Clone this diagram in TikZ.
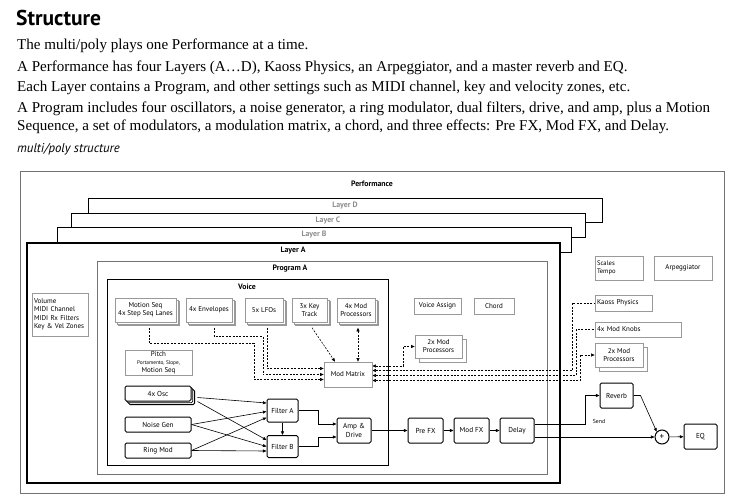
\documentclass[tikz,border=0pt]{standalone}
\usepackage{fontspec}
\setmainfont{Liberation Serif}
\newfontfamily\dgf{PT Sans}
\usetikzlibrary{arrows.meta,shadows,calc}
\pgfdeclarelayer{back}
\pgfdeclarelayer{mid}
\pgfsetlayers{back,mid,main}
\newlength\lw
\begin{document}%
\settowidth\lw{\fontsize{10pt}{12pt}\selectfont A Program includes four oscillators, a noise generator, a ring modulator, dual filters, drive, and amp, plus a Motion}%
\pgfmathsetmacro\bsz{6930/\lw}%
\begin{tikzpicture}[x=1pt,y=-1pt,
  lb/.style={draw=black!40, line width=0.6pt, fill=white, inner sep=0pt, align=center, font=\dgf\fontsize{7}{8}\selectfont},
  stk/.style={lb, double copy shadow={shadow xshift=1.8pt, shadow yshift=-1.8pt, draw=black!40, line width=0.6pt}},
  ab/.style={draw=black, line width=1pt, rounded corners=1.5pt, fill=white, inner sep=0pt, align=center, font=\dgf\fontsize{7.2}{8.5}\selectfont},
  tipa/.tip={Triangle[length=3.6pt,width=3pt]},
  sig/.style={line width=0.6pt, -tipa},
  modline/.style={line width=0.6pt, dash pattern=on 2pt off 1.4pt},
  mod/.style={modline, -tipa},
  modr/.style={modline, tipa-},
  modb/.style={modline, tipa-tipa},
  frm/.style={draw=black, line width=0.9pt, fill=white},
  lab/.style={font=\dgf\bfseries\fontsize{7.8}{9}\selectfont, inner sep=0pt},
  body/.style={anchor=base west, inner sep=0pt, font=\fontsize{\bsz pt}{14pt}\selectfont},
]
\useasboundingbox (0,0) rectangle (736,500);

% ---- header text
\node[anchor=base west, inner sep=0pt, font=\dgf\bfseries\fontsize{21.5}{24}\selectfont] (title) at (16,26) {Structure};
\node[body] (l1) at (17,50) {The multi/poly plays one Performance at a time.};
\node[body] (l2) at (17,71.5) {A Performance has four Layers (A…D), Kaoss Physics, an Arpeggiator, and a master reverb and EQ.};
\node[body] (l3) at (17,92) {Each Layer contains a Program, and other settings such as MIDI channel, key and velocity zones, etc.};
\node[body] (l4) at (17,113) {A Program includes four oscillators, a noise generator, a ring modulator, dual filters, drive, and amp, plus a Motion};
\node[body] (l5) at (17,130.5) {Sequence, a set of modulators, a modulation matrix, a chord, and three effects: Pre FX, Mod FX, and Delay.};
\node[anchor=base west, inner sep=0pt, font=\dgf\itshape\fontsize{12.8}{14}\selectfont] (cap) at (17,153) {multi/poly structure};

% ---- frames
\begin{pgfonlayer}{back}
\draw[draw=black!55, line width=0.8pt, fill=white] (20,171) rectangle (724,493);
\draw[frm] (88,198) rectangle (602,222);
\draw[frm] (71,213) rectangle (585,237);
\draw[frm] (57,227) rectangle (571,252);
\draw[frm, line width=1.2pt] (27,243) rectangle (560,483);
\draw[draw=black!55, line width=0.8pt] (97,261) rectangle (547,474);
\draw[draw=black, line width=0.8pt] (107,279) rectangle (388,465);
\end{pgfonlayer}

\node[lab] (perf) at (372,184) {Performance};
\node[lab, text=black!45] (layd) at (345,206) {Layer D};
\node[lab, text=black!45] (layc) at (328,221) {Layer C};
\node[lab, text=black!45] (layb) at (314,235) {Layer B};
\node[lab] (laya) at (293,251) {Layer A};
\node[lab] (proga) at (290,269) {Program A};
\node[lab] (voice) at (247,287) {Voice};

% ---- performance level
\node[lb, minimum width=48pt, minimum height=24pt, text width=44pt, align=left, font=\dgf\fontsize{6.6}{8}\selectfont] (scales) at (619,268) {Scales\\Tempo};
\node[lb, minimum width=58pt, minimum height=24pt] (arp) at (683,268) {Arpeggiator};

% ---- layer level
\node[lb, minimum width=56pt, minimum height=43pt, text width=52pt, align=left, font=\dgf\fontsize{7}{8.5}\selectfont] (vol) at (60,314.5) {Volume\\MIDI Channel\\MIDI Rx Filters\\Key \& Vel Zones};
\node[lb, minimum width=57pt, minimum height=16pt, text width=53pt, align=left] (kaoss) at (623.5,303) {Kaoss Physics};
\node[lb, minimum width=86pt, minimum height=15pt, text width=82pt, align=left] (knobs) at (638,329.5) {4x Mod Knobs};
\node[lb, minimum width=48pt, minimum height=24pt, copy shadow={shadow xshift=4pt, shadow yshift=-4pt, draw=black!40, line width=0.6pt}] (mpr) at (619,355) {2x Mod\\Processors};

% ---- program level
\node[lb, minimum width=47pt, minimum height=16pt] (vassign) at (437.5,306) {Voice Assign};
\node[lb, minimum width=40pt, minimum height=16pt] (chord) at (494,306) {Chord};
\node[lb, minimum width=47pt, minimum height=23pt, copy shadow={shadow xshift=4pt, shadow yshift=-4pt, draw=black!40, line width=0.6pt}] (mpp) at (438.5,346.5) {2x Mod\\Processors};

% ---- voice level: modulators
\node[stk, minimum width=61pt, minimum height=24pt] (ms) at (145.5,310) {Motion Seq\\4x Step Seq Lanes};
\node[stk, minimum width=46pt, minimum height=24pt] (env) at (209,310) {4x Envelopes};
\node[stk, minimum width=38pt, minimum height=24pt] (lfo) at (264,310) {5x LFOs};
\node[stk, minimum width=35pt, minimum height=24pt] (kt) at (309.5,310) {3x Key\\Track};
\node[stk, minimum width=38pt, minimum height=24pt] (mp) at (356,310) {4x Mod\\Processors};
\node[lb, minimum width=67pt, minimum height=25pt] (pitch) at (158.5,362.5) {Pitch\\[-0.5pt]\fontsize{5.3}{6.3}\selectfont Portamento, Slope,\\Motion Seq};
\node[lb, minimum width=48pt, minimum height=25pt] (mm) at (348,374.5) {Mod Matrix};

% ---- audio path
\node[ab, minimum width=66pt, minimum height=15pt, double copy shadow={shadow xshift=1.8pt, shadow yshift=-1.8pt, draw=black, line width=0.8pt}] (osc) at (158,393.5) {4x Osc};
\node[ab, minimum width=66pt, minimum height=15pt] (noise) at (158,424.5) {Noise Gen};
\node[ab, minimum width=66pt, minimum height=15pt] (ring) at (158,450.5) {Ring Mod};
\node[ab, minimum width=31pt, minimum height=23pt] (fa) at (282.5,410.5) {Filter A};
\node[ab, minimum width=31pt, minimum height=22pt] (fb) at (282.5,446.5) {Filter B};
\node[ab, minimum width=34pt, minimum height=25pt] (amp) at (354,430.5) {Amp \&\\Drive};
\node[ab, minimum width=35pt, minimum height=25pt] (prefx) at (425.5,430.5) {Pre FX};
\node[ab, minimum width=35pt, minimum height=25pt] (modfx) at (471.5,430.5) {Mod FX};
\node[ab, minimum width=34pt, minimum height=25pt] (delay) at (517,430.5) {Delay};
\node[ab, minimum width=33pt, minimum height=25pt] (rev) at (616.5,395.5) {Reverb};
\node[circle, draw, line width=1pt, fill=white, minimum size=14pt, inner sep=0pt, font=\dgf\fontsize{9}{9}\selectfont] (plus) at (662,437) {+};
\node[ab, minimum width=33pt, minimum height=25pt] (eq) at (700.5,436.5) {EQ};
\node[inner sep=0pt, font=\dgf\fontsize{5.8}{6.5}\selectfont] (send) at (599,421) {Send};

% ---- connectors
\begin{pgfonlayer}{mid}
% audio
\draw[sig] ([shift={(6,4)}]osc.east) -- ([shift={(0,-7.5)}]fa.west);
\draw[sig] ([shift={(6,8)}]osc.east) -- ([shift={(0,-6.5)}]fb.west);
\draw[sig] (noise.east) -- ([shift={(0,1)}]fa.west);
\draw[sig] (noise.east) -- (fb.west);
\draw[sig] (ring.east) -- ([shift={(0,7)}]fa.west);
\draw[sig] (ring.east) -- ([shift={(0,4.5)}]fb.west);
\draw[sig] (fa.south) -- (fb.north);
\draw[sig] (fa.east) -- ++(20,0) |- ([shift={(0,-6.5)}]amp.west);
\draw[sig] (fb.east) -- ++(20,0) |- ([shift={(0,6.5)}]amp.west);
\draw[sig] (amp) -- (prefx);
\draw[sig] (prefx) -- (modfx);
\draw[sig] (modfx) -- (delay);
\draw[sig] ([shift={(0,-6.5)}]delay.east) -- ++(51,0) |- (rev.west);
\draw[sig] ([shift={(0,6.5)}]delay.east) -- (plus.west);
\draw[sig] (rev.east) -- ++(7,0) -- (plus.north west);
\draw[sig] (plus) -- (eq);
% modulation
\draw[mod] ([shift={(3.5,5.4)}]ms.south) -- ++(0,15.6) -- ++(105,0) |- ([shift={(0,5)}]mm.west);
\draw[mod] ([shift={(5,5.4)}]env.south) -- ++(0,8.6) -- ++(49,0) |- (mm.west);
\draw[mod] ([shift={(3,5.4)}]lfo.south) |- ([shift={(0,-6)}]mm.west);
\draw[mod] ([shift={(2.5,5.4)}]kt.south) -- ([shift={(-13,0)}]mm.north);
\draw[modb] ([shift={(2,5.4)}]mp.south) -- ([shift={(10,0)}]mm.north);
\draw[modb] ([shift={(0,-8.5)}]mm.east) -- ++(31,0) |- (mpp.west);
\draw[modr] ([shift={(0,-4)}]mm.east) -- ++(200,0) |- (kaoss.west);
\draw[modr] ([shift={(0,1)}]mm.east) -- ++(204,0) |- (knobs.west);
\draw[modb] ([shift={(0,6)}]mm.east) -- ++(208,0) |- (mpr.west);
\end{pgfonlayer}
\end{tikzpicture}%
\end{document}
